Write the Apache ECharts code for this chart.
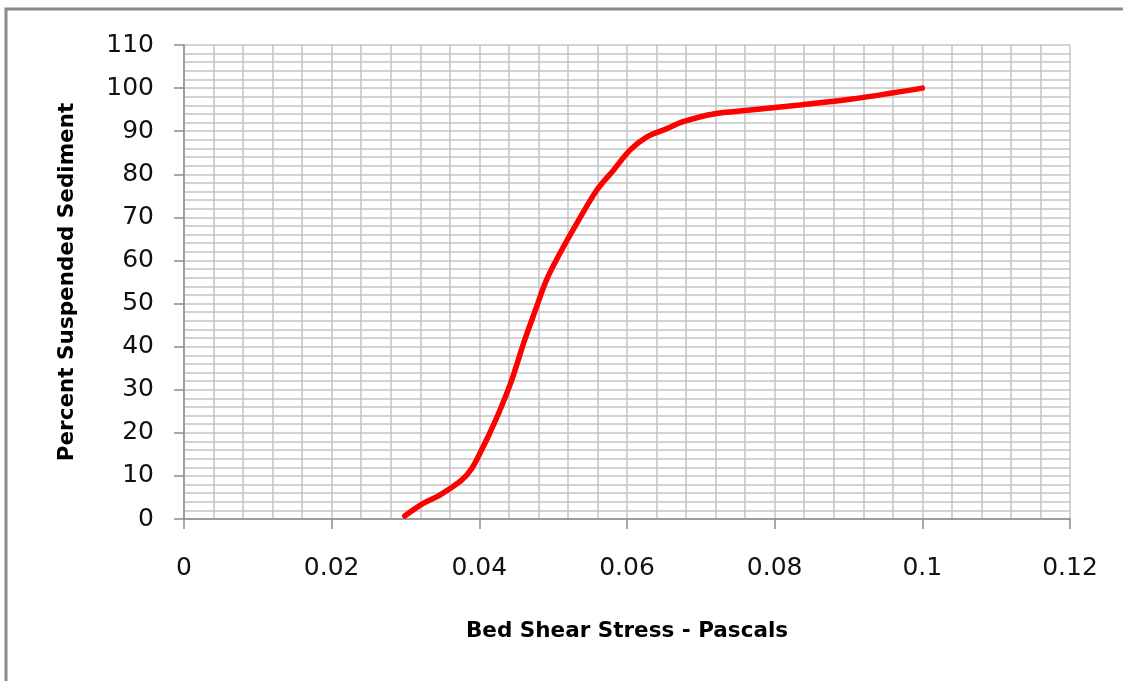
<!DOCTYPE html>
<html>
<head>
<meta charset="utf-8">
<script src="https://cdn.jsdelivr.net/npm/echarts@6/dist/echarts.min.js"></script>
<style>
html,body{margin:0;padding:0;background:#fff;}
#chart{width:1123px;height:681px;}
</style>
</head>
<body>
<div id="chart"></div>
<script>
const xAxisTitle = 'Bed Shear Stress - Pascals';
const yAxisTitle = 'Percent Suspended Sediment';
const shearStress = [0.0299,0.0324,0.0347,0.0376,0.0390,0.0403,0.0414,0.0428,0.0444,0.0460,0.0476,0.0491,0.0509,0.0532,0.0559,0.0582,0.0604,0.0627,0.0654,0.0676,0.0717,0.0767,0.0834,0.0902,0.0961,0.1000];
const percentSuspended = [0.7,3.6,5.6,9.0,11.8,16.0,19.9,25.3,32.3,40.8,48.5,55.5,61.6,68.6,76.3,81.0,85.6,88.7,90.6,92.2,94.0,94.9,96.1,97.4,98.9,100];

const chart = echarts.init(document.getElementById('chart'), null, {renderer:'canvas'});
const gridColor = '#c4c4c4';
const axisColor = '#8c8c8c';
const font = 'DejaVu Sans';
chart.setOption({
  animation:false,
  backgroundColor:'#fff',
  graphic:[{type:'rect', silent:true, shape:{x:6,y:9,width:1200,height:800}, style:{fill:null, stroke:'#8a8a8a', lineWidth:3}}],
  grid:{left:184, right:53, top:45, bottom:162},
  xAxis:{
    type:'value', min:0, max:0.12, interval:0.02,
    name:xAxisTitle, nameLocation:'middle', nameGap:101,
    nameTextStyle:{fontFamily:font, fontWeight:'bold', fontSize:21.5, color:'#000'},
    axisLine:{show:true, lineStyle:{color:axisColor, width:1.5}},
    axisTick:{show:true, inside:false, length:10, lineStyle:{color:axisColor, width:1.5}},
    axisLabel:{margin:37, fontFamily:font, fontSize:25, color:'#111', formatter:v=>String(+v.toFixed(4))},
    splitLine:{show:true, lineStyle:{color:gridColor, width:1.5}},
    minorTick:{show:false, splitNumber:5},
    minorSplitLine:{show:true, lineStyle:{color:gridColor, width:1.5}}
  },
  yAxis:{
    type:'value', min:0, max:110, interval:10,
    name:yAxisTitle, nameLocation:'middle', nameGap:106, nameRotate:90,
    nameTextStyle:{fontFamily:font, fontWeight:'bold', fontSize:21.5, color:'#000'},
    axisLine:{show:true, lineStyle:{color:axisColor, width:1.5}},
    axisTick:{show:true, inside:false, length:10, lineStyle:{color:axisColor, width:1.5}},
    axisLabel:{margin:30, fontFamily:font, fontSize:25, color:'#111'},
    splitLine:{show:true, lineStyle:{color:gridColor, width:1.5}},
    minorTick:{show:false, splitNumber:5},
    minorSplitLine:{show:true, lineStyle:{color:gridColor, width:1.5}}
  },
  series:[{
    type:'line', smooth:0.35, showSymbol:false, symbol:'none',
    data:shearStress.map((x,i)=>[x, percentSuspended[i]]),
    lineStyle:{color:'#ff0000', width:5.5, cap:'round'},
    itemStyle:{color:'#ff0000'}
  }]
});
</script>
</body>
</html>
